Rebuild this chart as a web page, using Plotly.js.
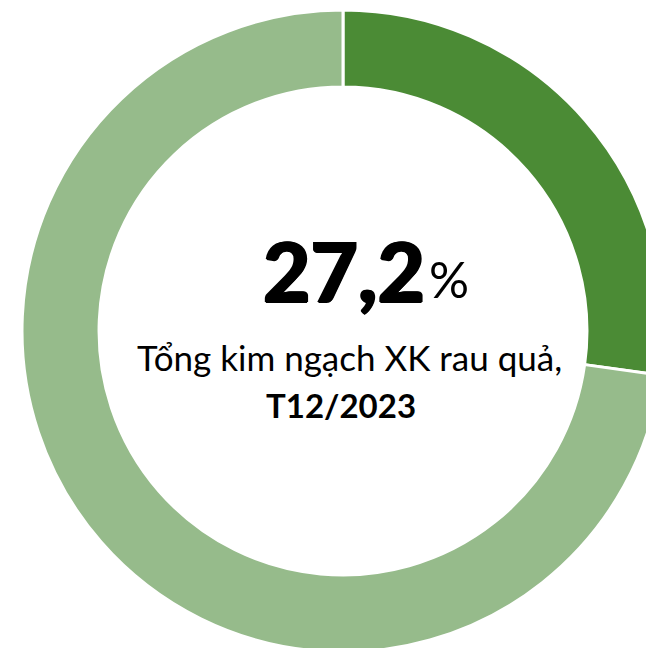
<!DOCTYPE html>
<html>
<head>
<meta charset="utf-8">
<script src="https://cdn.plot.ly/plotly-3.0.1.min.js"></script>
<style>
html,body{margin:0;padding:0;width:646px;height:648px;overflow:hidden;background:#fff;}
#chart{position:absolute;left:22px;top:10px;width:642px;height:642px;}
</style>
</head>
<body>
<div id="chart"></div>
<script>
const labels = ["Tỷ trọng", "Còn lại"];
const values = [27.2, 72.8];
const colors = ["#4b8b35", "#96bb8b"];
const bigValue = "27,2";
const bigUnit = "%";
const subLine1 = "Tổng kim ngạch XK rau quả,";
const subLine2 = "T12/2023";

const W = 642, H = 642, L = 22, T = 10;
const px = x => (x - L) / W;
const py = y => 1 - (y - T) / H;
const FONT = "Lato, 'Noto Sans', sans-serif";

Plotly.newPlot('chart', [{
  type: 'pie',
  labels: labels,
  values: values,
  hole: 0.76,
  sort: false,
  direction: 'clockwise',
  rotation: 0,
  textinfo: 'none',
  hoverinfo: 'none',
  marker: {colors: colors, line: {color: '#ffffff', width: 3}},
  showlegend: false
}], {
  width: W, height: H,
  margin: {l: 0, r: 0, t: 0, b: 0, pad: 0},
  paper_bgcolor: 'rgba(0,0,0,0)',
  plot_bgcolor: 'rgba(0,0,0,0)',
  annotations: [
    {text: bigValue, xref: 'paper', yref: 'paper', x: px(427), y: py(270),
     xanchor: 'right', yanchor: 'middle', showarrow: false,
     font: {family: FONT, size: 82, weight: 900, color: '#000',
            shadow: '1px 0 0 #000, -1px 0 0 #000, 0 1px 0 #000'}},
    {text: bigUnit, xref: 'paper', yref: 'paper', x: px(427), y: py(279),
     xanchor: 'left', yanchor: 'middle', showarrow: false,
     font: {family: FONT, size: 50, color: '#000'}},
    {text: subLine1, xref: 'paper', yref: 'paper', x: px(349), y: py(357),
     xanchor: 'center', yanchor: 'middle', showarrow: false,
     font: {family: FONT, size: 35, color: '#000'}},
    {text: '<b>' + subLine2 + '</b>', xref: 'paper', yref: 'paper', x: px(341), y: py(405),
     xanchor: 'center', yanchor: 'middle', showarrow: false,
     font: {family: FONT, size: 33, weight: 800, color: '#000'}}
  ]
}, {displayModeBar: false, staticPlot: true});
</script>
</body>
</html>
